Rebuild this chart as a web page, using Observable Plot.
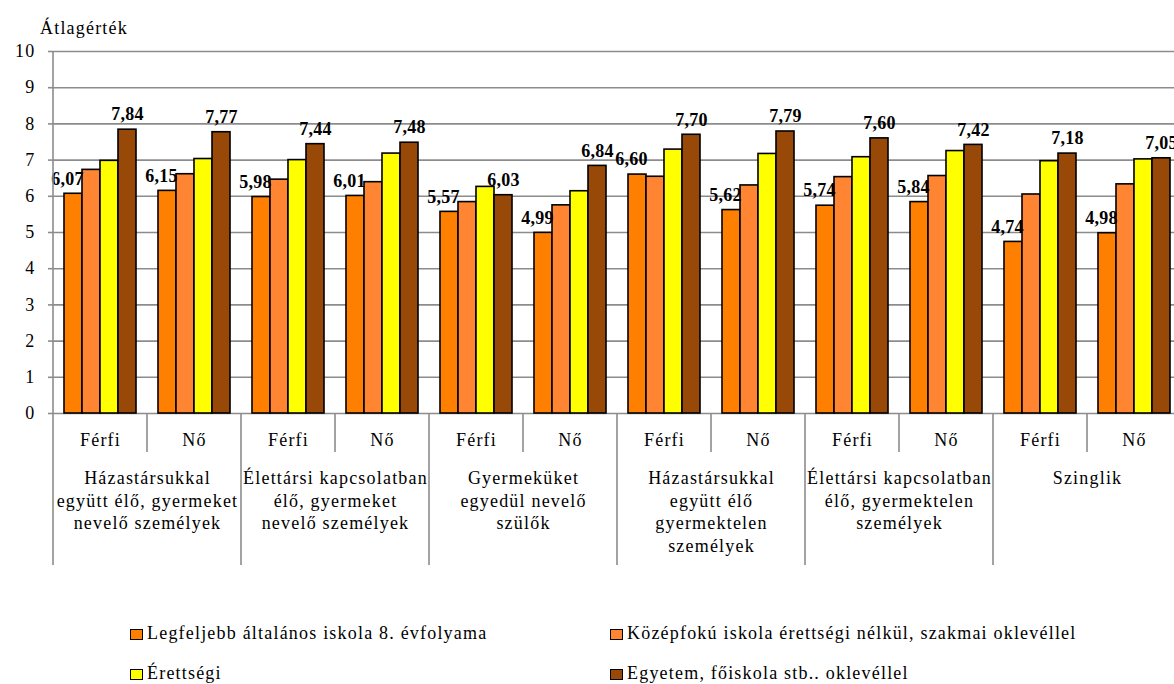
<!DOCTYPE html>
<html>
<head>
<meta charset="utf-8">
<script src="https://cdn.jsdelivr.net/npm/d3@7"></script>
<script src="https://cdn.jsdelivr.net/npm/@observablehq/plot@0.6"></script>
<style>
  html, body { margin: 0; padding: 0; background: #fff; overflow: hidden; }
  #wrap { position: relative; width: 1174px; height: 684px; font-family: "Liberation Serif", "Times New Roman", Times, "DejaVu Serif", serif; color: #000; letter-spacing: 1.2px; }
  #ytitle { position: absolute; left: 40px; top: 18px; font-size: 18px; line-height: 20px; }
  #chart { position: absolute; left: 0; top: 0; }
  #chart svg { max-width: none !important; }
  .leg { position: absolute; font-size: 18px; line-height: 20px; white-space: nowrap; }
  .leg span.sw { display: inline-block; width: 11px; height: 9px; border: 1px solid #000; margin-right: 4px; vertical-align: -1px; }
</style>
</head>
<body>
<div id="wrap">
  <div id="chart"></div>
  <div id="ytitle">Átlagérték</div>
</div>
<script>
const categories = [
  "Házastársukkal\negyütt élő, gyermeket\nnevelő személyek",
  "Élettársi kapcsolatban\nélő, gyermeket\nnevelő személyek",
  "Gyermeküket\negyedül nevelő\nszülők",
  "Házastársukkal\negyütt élő\ngyermektelen\nszemélyek",
  "Élettársi kapcsolatban\nélő, gyermektelen\nszemélyek",
  "Szinglik"
];
const sexes = ["Férfi", "Nő"];
const levels = [
  "Legfeljebb általános iskola 8. évfolyama",
  "Középfokú iskola érettségi nélkül, szakmai oklevéllel",
  "Érettségi",
  "Egyetem, főiskola stb.. oklevéllel"
];
const colors = ["#FF8000", "#FF8533", "#FFFF00", "#984807"];
// values per level, ordered: category1 Férfi, category1 Nő, category2 Férfi, ...
const lvl1 = [6.07, 6.15, 5.98, 6.01, 5.57, 4.99, 6.60, 5.62, 5.74, 5.84, 4.74, 4.98];
const lvl2 = [6.73, 6.61, 6.46, 6.39, 5.84, 5.75, 6.54, 6.30, 6.53, 6.56, 6.05, 6.33];
const lvl3 = [6.98, 7.03, 7.00, 7.18, 6.26, 6.14, 7.29, 7.17, 7.08, 7.25, 6.97, 7.02];
const lvl4 = [7.84, 7.77, 7.44, 7.48, 6.03, 6.84, 7.70, 7.79, 7.60, 7.42, 7.18, 7.05];
const yTicks = [0, 1, 2, 3, 4, 5, 6, 7, 8, 9, 10];

const series = [lvl1, lvl2, lvl3, lvl4];
const groupKeys = [];
categories.forEach((c, ci) => sexes.forEach(s => groupKeys.push(ci + "|" + s)));
const rows = [];
series.forEach((vals, li) => vals.forEach((v, gi) => rows.push({group: groupKeys[gi], level: levels[li], li, value: v})));
const catRows = categories.map((c, ci) => ({group: ci + "|Férfi", text: c}));
const fmt = d => d.value.toFixed(2).replace(".", ",");

const serif = "'Liberation Serif', 'Times New Roman', Times, 'DejaVu Serif', serif";
const gridColor = "#8c8c8c";
const W = 1186, H = 590, mL = 48, mT = 51, mB = 177;

const chart = Plot.plot({
  width: W, height: H,
  marginLeft: mL, marginRight: 0, marginTop: mT, marginBottom: mB,
  style: {fontFamily: serif, fontSize: "18px", letterSpacing: "1.2px", color: "#000", background: "#fff", overflow: "visible", maxWidth: "none"},
  fx: {domain: groupKeys, padding: 0, label: null, axis: "bottom", tickSize: 0, tickPadding: 20, tickFormat: d => d.split("|")[1]},
  x: {domain: levels, paddingInner: 0, paddingOuter: 0.56, axis: null},
  y: {domain: [0, 10], ticks: yTicks, tickSize: 5, tickPadding: 13, label: null, tickFormat: d => String(d)},
  color: {domain: levels, range: colors},
  marks: [
    Plot.ruleY(yTicks, {stroke: gridColor, strokeWidth: 1.6}),
    Plot.barY(rows, {fx: "group", x: "level", y: "value", fill: "level", stroke: "#000", strokeWidth: 1.6, inset: 0}),
    Plot.text(rows.filter(d => d.li === 0), {fx: "group", x: "level", y: "value", text: fmt,
      dx: -6, dy: -15, fontWeight: "bold", fontSize: 18, fill: "#000"}),
    Plot.text(rows.filter(d => d.li === 3), {fx: "group", x: "level", y: "value", text: fmt,
      dy: -15, fontWeight: "bold", fontSize: 18, fill: "#000"}),
    Plot.text(catRows, {fx: "group", text: "text", frameAnchor: "bottom-right", textAnchor: "middle",
      lineAnchor: "top", dy: 55, lineHeight: 1.25, fontSize: 18, fill: "#000"})
  ]
});
chart.style.maxWidth = "none";
document.getElementById("chart").appendChild(chart);

const svg = d3.select(chart);
// gray y axis lines
svg.selectAll("[aria-label^='y-axis'] line, [aria-label^='y-axis'] path").attr("stroke", gridColor).attr("stroke-width", 1.6);
// bold value labels: tighter spacing
svg.selectAll("g[font-weight='bold']").style("letter-spacing", "0.3px");

// axis line & separators derived from fx scale
const fx = chart.scale("fx");
const step = (fx.range[1] - fx.range[0]) / fx.domain.length;
const pos = k => fx.apply ? fx.apply(k) : fx.range[0] + fx.domain.indexOf(k) * step;
const y0 = mT + (H - mT - mB);
const g = svg.append("g").attr("stroke", gridColor).attr("stroke-width", 1.6);
g.append("line").attr("x1", pos(groupKeys[0])).attr("x2", pos(groupKeys[0])).attr("y1", mT).attr("y2", y0);
groupKeys.forEach(k => {
  const x = pos(k);
  const isCat = k.endsWith("Férfi");
  g.append("line").attr("x1", x).attr("x2", x).attr("y1", y0).attr("y2", y0 + (isCat ? 152 : 39));
});
g.append("line").attr("x1", fx.range[1]).attr("x2", fx.range[1]).attr("y1", y0).attr("y2", y0 + 152);

// legend
const wrap = document.getElementById("wrap");
const legPos = [[130, 623], [610, 623], [130, 663], [610, 663]];
levels.forEach((l, i) => {
  const d = document.createElement("div");
  d.className = "leg";
  d.style.left = legPos[i][0] + "px";
  d.style.top = legPos[i][1] + "px";
  d.innerHTML = '<span class="sw" style="background:' + colors[i] + '"></span>' + l;
  wrap.appendChild(d);
});
</script>
</body>
</html>
